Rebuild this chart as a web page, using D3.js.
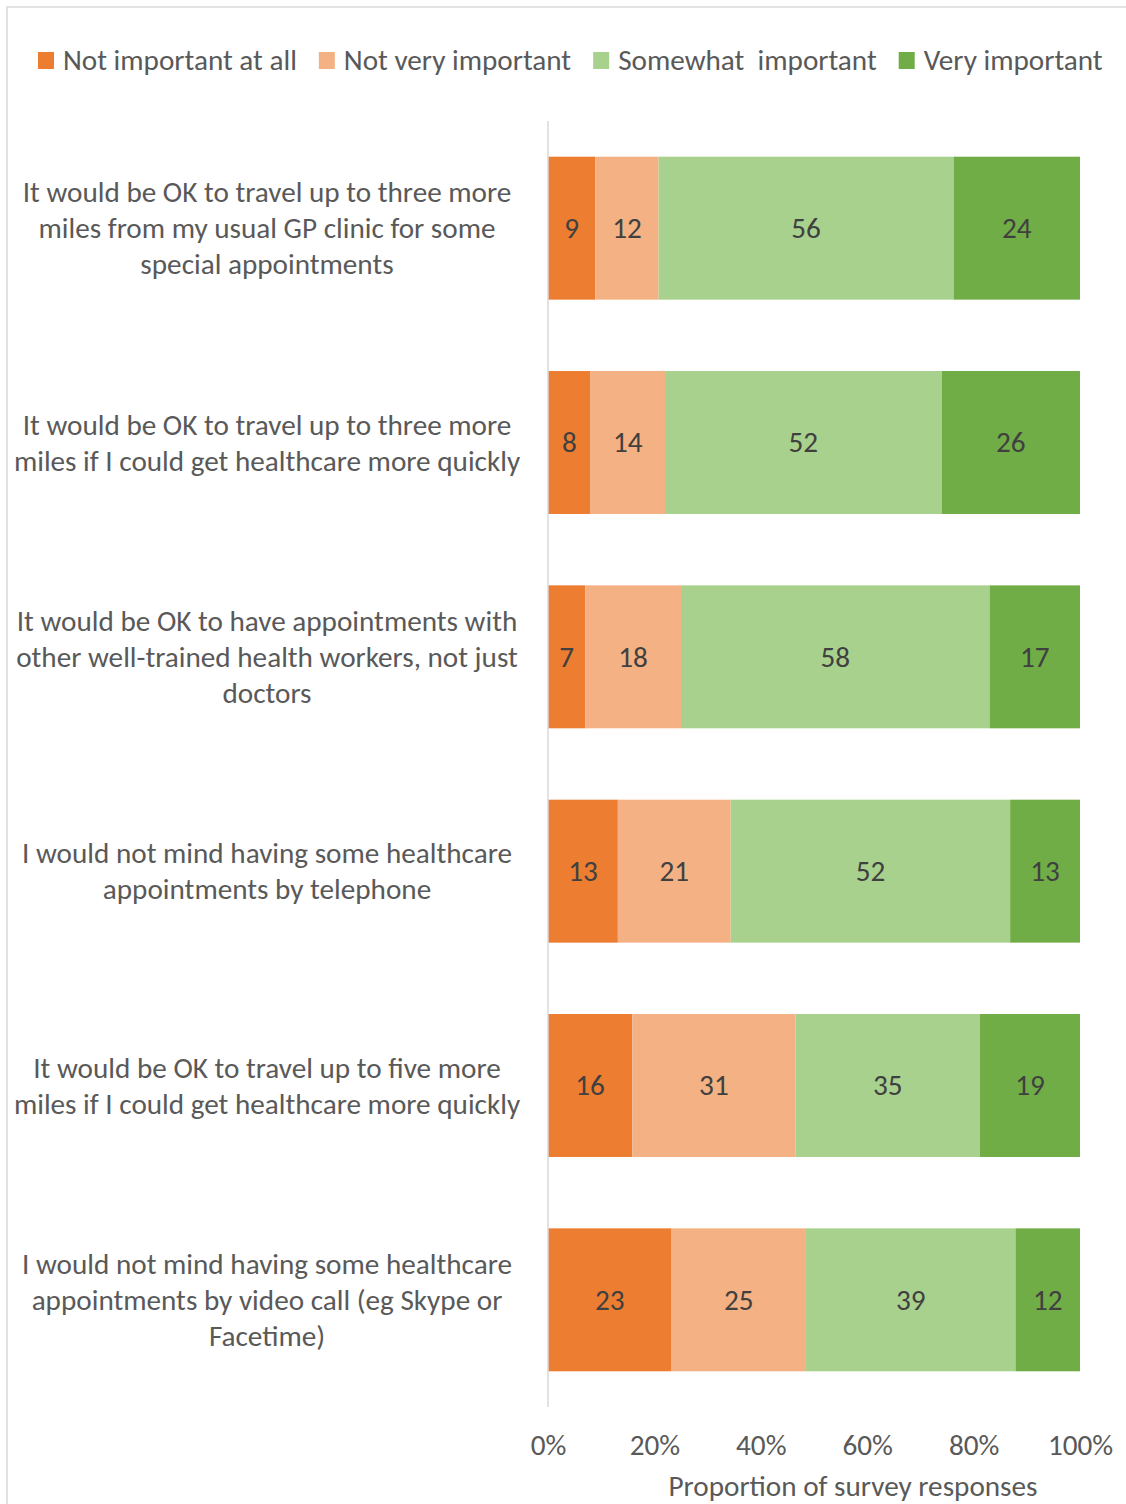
<!DOCTYPE html>
<html>
<head>
<meta charset="utf-8">
<script src="https://cdn.jsdelivr.net/npm/d3@7"></script>
<style>
  body { margin: 0; background: #fff; }
  svg text { font-family: Carlito, Lato, "Open Sans", sans-serif; }
</style>
</head>
<body>
<div id="chart"></div>
<script>
// Survey statements (label lines as wrapped in the original)
const statements = [
    ["It would be OK to travel up to three more", "miles from my usual GP clinic for some", "special appointments"],
    ["It would be OK to travel up to three more", "miles if I could get healthcare more quickly"],
    ["It would be OK to have appointments with", "other well-trained health workers, not just", "doctors"],
    ["I would not mind having some healthcare", "appointments by telephone"],
    ["It would be OK to travel up to five more", "miles if I could get healthcare more quickly"],
    ["I would not mind having some healthcare", "appointments by video call (eg Skype or", "Facetime)"]
];
const seriesNames = ["Not important at all", "Not very important", "Somewhat  important", "Very important"];
const notAtAll = [9, 8, 7, 13, 16, 23];
const notVery = [12, 14, 18, 21, 31, 25];
const somewhat = [56, 52, 58, 52, 35, 39];
const very = [24, 26, 17, 13, 19, 12];
const colors = ["#ED7D31", "#F4B183", "#A9D18E", "#70AD47"];
const xTicks = [0, 0.2, 0.4, 0.6, 0.8, 1];

const W = 1126, H = 1504;
const margin = {top: 121, right: 46, bottom: 97, left: 548};
const width = W - margin.left - margin.right;
const height = H - margin.top - margin.bottom;
const fs = 29.2;

const rows = statements.map((s, i) => ({
    id: i, lines: s,
    vals: [notAtAll[i], notVery[i], somewhat[i], very[i]]
}));

const svg = d3.select("#chart").append("svg")
    .attr("width", W)
    .attr("height", H);

// chart frame
svg.append("rect")
    .attr("x", 7).attr("y", 7)
    .attr("width", W + 10).attr("height", H + 10)
    .attr("fill", "none")
    .attr("stroke", "#d9d9d9")
    .attr("stroke-width", 1.5);

// legend
const legend = svg.append("g");
let lx = 38;
seriesNames.forEach((name, i) => {
    legend.append("rect")
        .attr("x", lx).attr("y", 52)
        .attr("width", 16).attr("height", 17)
        .attr("fill", colors[i]);
    const t = legend.append("text")
        .attr("x", lx + 25).attr("y", 70)
        .attr("font-size", fs)
        .attr("fill", "#595959")
        .style("white-space", "pre")
        .text(name);
    lx += 25 + t.node().getComputedTextLength() + 22;
});

const g = svg.append("g")
    .attr("transform", `translate(${margin.left},${margin.top})`);

const x = d3.scaleLinear().domain([0, 1]).range([0, width]);
const y = d3.scaleBand()
    .domain(rows.map(d => d.id))
    .range([0, height])
    .paddingInner(0.333)
    .paddingOuter(0.1665);

// bars, normalised to 100% like a 100% stacked chart
rows.forEach(r => {
    const total = d3.sum(r.vals);
    let acc = 0;
    r.segs = r.vals.map((v, k) => {
        const s = {k, v, x0: acc / total, x1: (acc + v) / total};
        acc += v;
        return s;
    });
});

const rowG = g.selectAll(".row")
    .data(rows)
    .enter().append("g")
        .attr("class", "row")
        .attr("transform", d => `translate(0,${y(d.id)})`);

rowG.selectAll("rect")
    .data(d => d.segs)
    .enter().append("rect")
        .attr("x", s => x(s.x0))
        .attr("width", s => x(s.x1) - x(s.x0))
        .attr("y", 0)
        .attr("height", y.bandwidth())
        .attr("fill", s => colors[s.k]);

rowG.selectAll(".label")
    .data(d => d.segs)
    .enter().append("text")
        .attr("class", "label")
        .attr("x", s => (x(s.x0) + x(s.x1)) / 2)
        .attr("y", y.bandwidth() / 2 + 10)
        .attr("text-anchor", "middle")
        .attr("font-size", fs)
        .attr("fill", "#404040")
        .text(s => s.v);

// vertical axis line
g.append("line")
    .attr("x1", 0).attr("x2", 0)
    .attr("y1", 0).attr("y2", height)
    .attr("stroke", "#d9d9d9")
    .attr("stroke-width", 1.5);

// category labels
const lineH = 36;
g.selectAll(".cat")
    .data(rows)
    .enter().append("text")
        .attr("class", "cat")
        .attr("font-size", fs)
        .attr("fill", "#595959")
        .attr("text-anchor", "middle")
        .each(function(d) {
            const n = d.lines.length;
            const cy = y(d.id) + y.bandwidth() / 2;
            d3.select(this).selectAll("tspan")
                .data(d.lines)
                .enter().append("tspan")
                    .attr("x", -281)
                    .attr("y", (l, j) => cy + (j - (n - 1) / 2) * lineH + 10)
                    .text(l => l);
        });

// x axis
const xAxis = g.append("g")
    .attr("transform", `translate(0,${height})`)
    .call(d3.axisBottom(x).tickValues(xTicks).tickFormat(d3.format(".0%")).tickSize(0).tickPadding(27));
xAxis.select(".domain").remove();
xAxis.selectAll("text")
    .attr("font-size", fs)
    .attr("fill", "#595959");

g.append("text")
    .attr("x", 305)
    .attr("y", height + 89)
    .attr("text-anchor", "middle")
    .attr("font-size", fs)
    .attr("fill", "#595959")
    .text("Proportion of survey responses");
</script>
</body>
</html>
